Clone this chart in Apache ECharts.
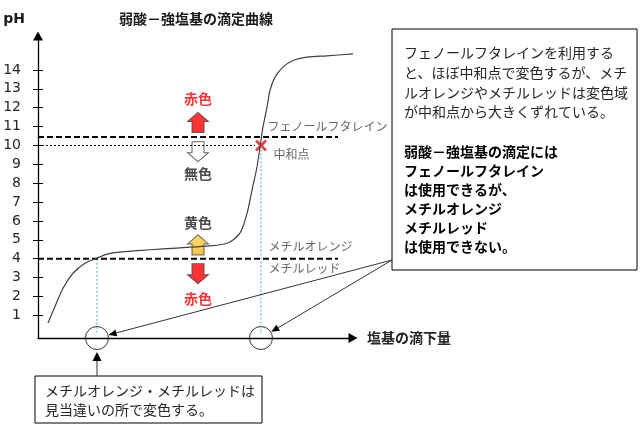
<!DOCTYPE html>
<html>
<head>
<meta charset="utf-8">
<script src="https://cdn.jsdelivr.net/npm/echarts@6/dist/echarts.min.js"></script>
<style>
html, body { margin: 0; background: #fff; }
#main { width: 640px; height: 430px; }
</style>
</head>
<body>
<div id="main"></div>
<script>
// titration curve: [base added (arbitrary units), pH]
const titrationCurve = [
  [1.0, 0.6], [1.7, 1.47], [2.5, 2.44], [3.5, 3.23], [4.7, 3.76], [5.9, 4.03],
  [6.9, 4.24], [7.9, 4.34], [9.9, 4.43], [12.5, 4.52], [15.2, 4.61], [17.5, 4.69],
  [18.9, 4.82], [19.6, 5.03], [20.3, 5.45], [20.9, 6.4], [21.4, 7.63], [21.9, 8.86],
  [22.2, 9.92], [22.5, 10.98], [22.9, 12.03], [23.2, 12.92], [23.7, 13.62],
  [24.5, 14.15], [25.5, 14.5], [26.9, 14.68], [28.9, 14.75], [31.5, 14.85]
]
const phTicks = [1, 2, 3, 4, 5, 6, 7, 8, 9, 10, 11, 12, 13, 14]
const phenolLine = [[0, 10.45], [30, 10.45]]
const methylLine = [[0, 4], [30, 4]]
const neutralLevel = [[0, 10], [21.7, 10]]
const neutralPoint = [[22.3, 10]]
const methylDrop = [[5.9, 4], [5.9, 0]]
const neutralDrop = [[22.3, 10], [22.3, 0]]
const circlePoints = [[5.9, -0.2], [22.3, -0.2]]

// colour-change arrows [x, pH]
const redUp = [[16.0, 11.22]]
const whiteDown = [[16.0, 9.67]]
const yellowUp = [[16.0, 4.73]]
const redDown = [[16.0, 3.21]]

// colour words next to arrows
const colourLabels = [
  { name: '赤色', value: [16.0, 12.46], color: '#ff0000' },
  { name: '無色', value: [16.0, 8.49], color: '#1a1a1a' },
  { name: '黄色', value: [16.0, 5.93], color: '#1a1a1a' },
  { name: '赤色', value: [16.0, 1.90], color: '#ff0000' },
]
const indicatorLabels = [
  { name: 'フェノールフタレイン', value: [22.9, 11.03] },
  { name: '中和点', value: [23.5, 9.5] },
  { name: 'メチルオレンジ', value: [23.0, 4.64] },
  { name: 'メチルレッド', value: [23.0, 3.46] },
]

const noteLines = [
  'フェノールフタレインを利用する',
  'と、ほぼ中和点で変色するが、メチ',
  'ルオレンジやメチルレッドは変色域',
  'が中和点から大きくずれている。',
]
const conclusionLines = [
  '弱酸－強塩基の滴定には',
  'フェノールフタレイン',
  'は使用できるが、',
  'メチルオレンジ',
  'メチルレッド',
  'は使用できない。',
]
const bottomNote = ['メチルオレンジ・メチルレッドは', '見当違いの所で変色する。']

const JP = '"Noto Sans CJK JP", sans-serif'
const upArrow = 'path://M10.5,0 L21,9 L16.5,9 L16.5,20 L4.5,20 L4.5,9 L0,9 Z'
const crossMark = 'path://M0,2 L2,0 L6,4 L10,0 L12,2 L8,6 L12,10 L10,12 L6,8 L2,12 L0,10 L4,6 Z'

function guide(data, color, width, type) {
  return {
    type: 'line', data, symbol: 'none', silent: true,
    lineStyle: { color, width, type },
  }
}

function arrowSeries(data, fill, rotate) {
  return {
    type: 'scatter', data, symbol: upArrow, symbolSize: [21, 20], symbolRotate: rotate,
    itemStyle: { color: fill, borderColor: '#404040', borderWidth: 1 },
  }
}

const option = {
  animation: false,
  backgroundColor: '#fff',
  grid: { left: 38, top: 36, width: 315, height: 302 },
  xAxis: {
    type: 'value', min: 0, max: 31.5,
    name: '塩基の滴下量', nameLocation: 'end', nameGap: 14,
    nameTextStyle: { fontFamily: JP, fontSize: 14, fontWeight: 'bold', color: '#262626' },
    axisLine: { onZero: false, symbol: ['none', 'triangle'], symbolSize: [10, 9], lineStyle: { color: '#000', width: 1.3 } },
    axisTick: { show: false },
    axisLabel: { show: false },
    splitLine: { show: false },
  },
  yAxis: [{
    type: 'value', min: -0.2, max: 15.8, position: 'left',
    name: 'pH', nameLocation: 'end', nameGap: 10,
    nameTextStyle: { fontFamily: '"DejaVu Sans", sans-serif', fontSize: 14, fontWeight: 'bold', color: '#1a1a1a', align: 'right', padding: [0, 13, 0, 0] },
    axisLine: { onZero: false, symbol: ['none', 'triangle'], symbolSize: [10, 9], lineStyle: { color: '#000', width: 1.3 } },
    axisTick: { customValues: phTicks, length: 5, lineStyle: { color: '#000' } },
    axisLabel: { customValues: phTicks, margin: 17, fontSize: 14, fontFamily: '"DejaVu Sans", sans-serif', color: '#262626' },
    splitLine: { show: false },
  }, {
    // second axis only to get the inner half of the crossing ticks
    type: 'value', min: -0.2, max: 15.8, position: 'left',
    axisLine: { show: false },
    axisTick: { customValues: phTicks, inside: true, length: 5, lineStyle: { color: '#000' } },
    axisLabel: { show: false },
    splitLine: { show: false },
  }],
  series: [
    guide(neutralLevel, '#000', 1, [2, 2]),
    guide(methylDrop, '#4bacc6', 1, [2, 2]),
    guide(neutralDrop, '#4bacc6', 1, [2, 2]),
    guide(phenolLine, '#000', 2.2, [6, 3]),
    guide(methylLine, '#000', 2.2, [6, 3]),
    {
      type: 'line', data: titrationCurve, smooth: 0.3, symbol: 'none',
      lineStyle: { color: '#404040', width: 1.2 },
    },
    {
      type: 'scatter', data: circlePoints, symbol: 'circle', symbolSize: 23, clip: false,
      itemStyle: { color: 'rgba(0,0,0,0)', borderColor: '#000', borderWidth: 1 },
    },
    {
      type: 'scatter', data: neutralPoint, symbol: crossMark, symbolSize: 12,
      itemStyle: { color: '#e3141c' },
    },
    arrowSeries(redUp, '#ff0000', 0),
    arrowSeries(whiteDown, '#ffffff', 180),
    arrowSeries(yellowUp, new echarts.graphic.LinearGradient(0, 0, 0, 1, [
      { offset: 0, color: '#ffd24a' }, { offset: 1, color: '#f5b21a' }]), 0),
    arrowSeries(redDown, '#ff0000', 180),
    {
      type: 'scatter', symbol: 'circle', symbolSize: 1, itemStyle: { color: 'rgba(0,0,0,0)' },
      data: colourLabels.map(d => ({ name: d.name, value: d.value, label: { color: d.color } })),
      label: { show: true, position: 'inside', formatter: '{b}', fontFamily: JP, fontSize: 14, fontWeight: 'bold' },
    },
    {
      type: 'scatter', symbol: 'circle', symbolSize: 1, itemStyle: { color: 'rgba(0,0,0,0)' },
      data: indicatorLabels,
      label: { show: true, position: 'right', distance: 0, formatter: '{b}', fontFamily: JP, fontSize: 12, color: '#404040' },
    },
  ],
}

const chart = echarts.init(document.getElementById('main'))
chart.setOption(option)

const toPx = p => chart.convertToPixel({ gridIndex: 0 }, p)

function textEl(text, x, y, size, weight, align, color) {
  return {
    type: 'text', z: 10,
    style: { text, x, y, fontFamily: JP, fontSize: size, fontWeight: weight, fill: color, align, verticalAlign: 'middle' },
  }
}

function arrowTo(from, to, headLen, headW) {
  const dx = to[0] - from[0], dy = to[1] - from[1]
  const len = Math.hypot(dx, dy)
  const ux = dx / len, uy = dy / len
  const bx = to[0] - ux * headLen, by = to[1] - uy * headLen
  return [
    { type: 'line', z: 9, shape: { x1: from[0], y1: from[1], x2: bx, y2: by }, style: { stroke: '#333', lineWidth: 1 } },
    {
      type: 'polygon', z: 9,
      shape: { points: [to, [bx - uy * headW, by + ux * headW], [bx + uy * headW, by - ux * headW]] },
      style: { fill: '#000' },
    },
  ]
}

const graphic = []
graphic.push(textEl('弱酸－強塩基の滴定曲線', 196, 19, 14, 'bold', 'center', '#1a1a1a'))

// leader lines from the note box to the two circles
const leaderStart = [392, 260]
circlePoints.forEach(p => {
  const c = toPx(p)
  const dx = leaderStart[0] - c[0], dy = leaderStart[1] - c[1]
  const d = Math.hypot(dx, dy)
  const tip = [c[0] + dx / d * 12, c[1] + dy / d * 12]
  graphic.push(...arrowTo(leaderStart, tip, 8, 3.5))
})

// right note box
graphic.push({ type: 'rect', z: 8, shape: { x: 392, y: 29, width: 245, height: 241 }, style: { fill: '#fff', stroke: '#000', lineWidth: 1 } })
noteLines.forEach((t, i) => graphic.push(textEl(t, 404, 53 + i * 19.6, 14, 'normal', 'left', '#262626')))
conclusionLines.forEach((t, i) => graphic.push(textEl(t, 404, 151.5 + i * 19.1, 14, 'bold', 'left', '#000')))

// bottom note box with arrow up to the first circle
const c1 = toPx(circlePoints[0])
graphic.push(...arrowTo([c1[0], 376], [c1[0], 352], 9, 4.5))
graphic.push({ type: 'rect', z: 8, shape: { x: 35, y: 376, width: 227, height: 47 }, style: { fill: '#fff', stroke: '#000', lineWidth: 1 } })
bottomNote.forEach((t, i) => graphic.push(textEl(t, 45, 391 + i * 19, 14, 'normal', 'left', '#262626')))

chart.setOption({ graphic })
</script>
</body>
</html>
